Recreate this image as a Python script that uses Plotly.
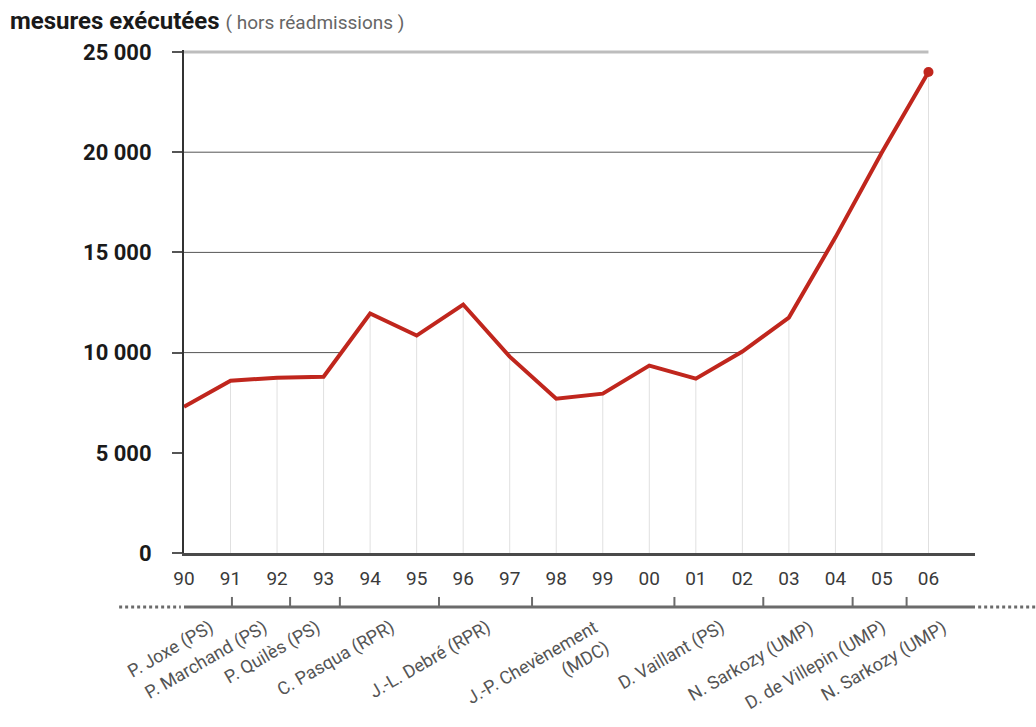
import plotly.graph_objects as go

# ---- data ----
years = ["90", "91", "92", "93", "94", "95", "96", "97", "98", "99",
         "00", "01", "02", "03", "04", "05", "06"]
mesures = [7300, 8600, 8750, 8800, 11950, 10850, 12400, 9800, 7700, 7950,
           9350, 8700, 10050, 11750, 15750, 20000, 24000]
y_ticks = [0, 5000, 10000, 15000, 20000, 25000]
y_ticktext = ["0", "5 000", "10 000", "15 000", "20 000", "25 000"]

ministres = ["P. Joxe (PS)", "P. Marchand (PS)", "P. Quilès (PS)", "C. Pasqua (RPR)",
             "J.-L. Debré (RPR)", "J.-P. Chevènement<br>(MDC)", "D. Vaillant (PS)",
             "N. Sarkozy (UMP)", "D. de Villepin (UMP)", "N. Sarkozy (UMP)"]
# end of each term, in year-index units (0 = 1990)
fins_mandat = [1.03, 2.28, 3.35, 5.48, 7.48, 10.54, 12.45, 14.37, 15.53]

x = list(range(len(years)))
x_max = len(years)  # axis extends one step beyond the last year
top = y_ticks[-1]

RED = "#c0261d"
FONT = "Roboto"

fig = go.Figure()

# horizontal gridlines (hidden below the curve by the white fill)
gx, gy = [], []
for t in y_ticks[1:-1]:
    gx += [x[0], x[-1], None]
    gy += [t, t, None]
fig.add_trace(go.Scatter(x=gx, y=gy, mode="lines", line=dict(color="#555555", width=1),
                         hoverinfo="skip", showlegend=False))
# white area under the curve
fig.add_trace(go.Scatter(x=x, y=mesures, mode="lines", fill="tozeroy",
                         fillcolor="white", line=dict(width=0),
                         hoverinfo="skip", showlegend=False))
# vertical light gridlines, under the curve only
vx, vy = [], []
for xi, v in zip(x[1:], mesures[1:]):
    vx += [xi, xi, None]
    vy += [0, v, None]
fig.add_trace(go.Scatter(x=vx, y=vy, mode="lines", line=dict(color="#e0e0e0", width=1),
                         hoverinfo="skip", showlegend=False))
# top light-grey line
fig.add_trace(go.Scatter(x=[x[0], x[-1]], y=[top, top], mode="lines",
                         line=dict(color="#bdbdbd", width=3),
                         hoverinfo="skip", showlegend=False))
# main line
fig.add_trace(go.Scatter(x=x, y=mesures, mode="lines",
                         line=dict(color=RED, width=4),
                         showlegend=False))
# end point
fig.add_trace(go.Scatter(x=[x[-1]], y=[mesures[-1]], mode="markers",
                         marker=dict(color=RED, size=10), cliponaxis=False,
                         showlegend=False))

# ---- timeline of ministers below the chart ----
tl_y = -0.1074
fig.add_shape(type="line", xref="x", yref="paper", x0=0, x1=x_max, y0=tl_y, y1=tl_y,
              line=dict(color="#6b6b6b", width=3), layer="above")
fig.add_shape(type="line", xref="paper", yref="paper", x0=-0.082, x1=-0.004, y0=tl_y, y1=tl_y,
              line=dict(color="#6b6b6b", width=3, dash="dot"))
fig.add_shape(type="line", xref="paper", yref="paper", x0=1.004, x1=1.08, y0=tl_y, y1=tl_y,
              line=dict(color="#6b6b6b", width=3, dash="dot"))
for f in fins_mandat:
    fig.add_shape(type="line", xref="x", yref="paper", x0=f, x1=f, y0=tl_y, y1=tl_y + 0.02,
                  line=dict(color="#6b6b6b", width=2))

bornes = [0] + fins_mandat + [x_max]
for i, nom in enumerate(ministres):
    mid = (bornes[i] + bornes[i + 1]) / 2
    fig.add_annotation(x=mid, y=tl_y - 0.012, xref="x", yref="paper", text=nom,
                       showarrow=False, textangle=-30, xanchor="right", yanchor="top",
                       xshift=12, align="right",
                       font=dict(family=FONT, size=18, color="#555555"))

# ---- title ----
fig.add_annotation(
    x=-0.222, y=1.058, xref="paper", yref="paper", xanchor="left", yanchor="middle",
    showarrow=False,
    text="<b>mesures exécutées</b> <span style='font-size:19px;color:#666666'>( hors réadmissions )</span>",
    font=dict(family=FONT, size=24, color="#1a1a1a"))

fig.update_layout(
    width=1036, height=727,
    margin=dict(l=184, r=61, t=50, b=174),
    paper_bgcolor="white", plot_bgcolor="white",
    font=dict(family=FONT),
    xaxis=dict(range=[0, x_max], tickmode="array", tickvals=x, ticktext=years,
               showgrid=False,
               showline=True, linecolor="#4a4a4a", linewidth=2.5,
               ticks="", ticklabelstandoff=6, zeroline=False,
               tickfont=dict(family=FONT, size=19, color="#3a3a3a"), fixedrange=True),
    yaxis=dict(range=[0, 25100], tickmode="array", tickvals=y_ticks, ticktext=y_ticktext,
               showgrid=False,
               showline=True, linecolor="#333333", linewidth=2,
               ticks="outside", ticklen=10, tickcolor="#555555", tickwidth=1.5,
               ticklabelstandoff=16, zeroline=False,
               tickfont=dict(family=FONT, size=22, color="#1a1a1a", weight="bold"),
               fixedrange=True),
)

fig.write_html("out.html", config={"displayModeBar": False},
               post_script="document.body.style.margin='0';")
